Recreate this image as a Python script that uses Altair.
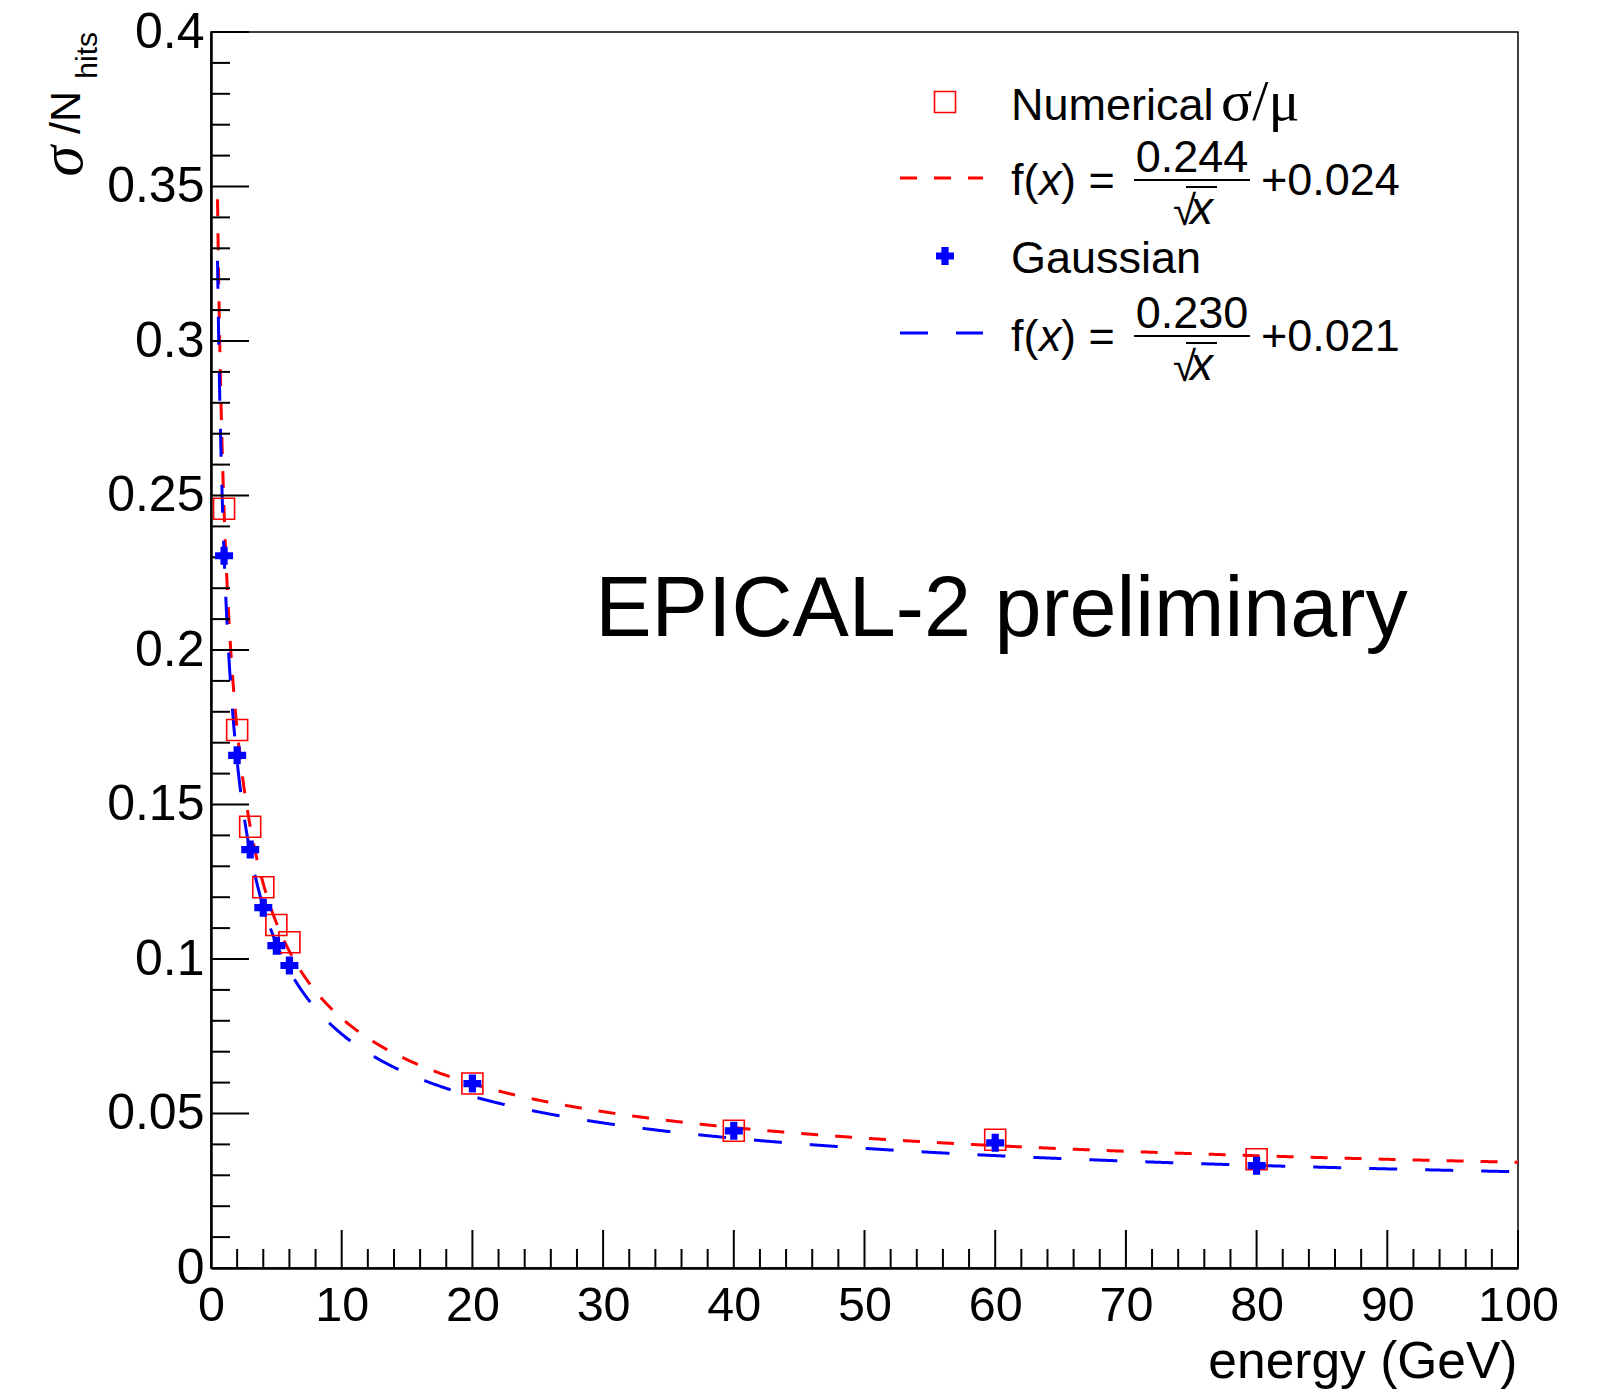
import altair as alt
import pandas as pd

# ---------------- data ----------------
energy = [1, 2, 3, 4, 5, 6, 20, 40, 60, 80]
numerical = [0.2457, 0.1741, 0.1428, 0.1232, 0.1110, 0.1054, 0.0597, 0.0444, 0.0415, 0.0352]
gaussian = [0.2305, 0.1659, 0.1354, 0.1166, 0.1043, 0.0979, 0.0597, 0.0444, 0.0405, 0.0331]

# fit parameters (stochastic term, constant term) as printed in the legend
fit_numerical = [0.244, 0.024]
fit_gaussian = [0.230, 0.021]
fit_range = [0.5, 100.0]

x_major = list(range(0, 101, 10))
x_minor = [v for v in range(0, 101, 2) if v % 10 != 0]
y_major = [0, 0.05, 0.1, 0.15, 0.2, 0.25, 0.3, 0.35, 0.4]
y_minor = [round(i * 0.01, 2) for i in range(41) if i % 5 != 0]

# ---------------- style ----------------
W, H = 1307, 1236
FONT = "Liberation Sans"
SERIF = "Liberation Serif"
RED = "#ff0000"
BLUE = "#0000ff"

xs = alt.Scale(domain=[0, 100], nice=False, zero=False)
ys = alt.Scale(domain=[0, 0.4], nice=False)

pts = pd.DataFrame({"energy": energy, "numerical": numerical, "gaussian": gaussian})

base = alt.Chart(pts)

x_axis = alt.Axis(values=x_major, ticks=False, grid=False, domainColor="black", domainWidth=2.5,
                  labelFont=FONT, labelFontSize=48.5, labelColor="black", labelPadding=14,
                  labelFlush=False, labelOverlap=False,
                  title="energy (GeV)", titleFont=FONT, titleFontSize=51.5, titleFontWeight="normal",
                  titleColor="black", titleAlign="right", titleAnchor="end", titleBaseline="alphabetic",
                  titleX=W - 1, titleY=109)
y_axis = alt.Axis(values=y_major, format="~g", ticks=False, grid=False, domainColor="black", domainWidth=2.5,
                  labelFont=FONT, labelFontSize=50, labelColor="black", labelPadding=7,
                  labelFlush=False, labelOverlap=False, labelBaseline="middle", title=None)


def fit_curve(params, color, dash):
    a, b = params
    return (alt.Chart(alt.sequence(fit_range[0], fit_range[1] + 0.05, 0.05, as_="energy"))
            .transform_calculate(sig=f"sqrt({a}*{a}/datum.energy + {b}*{b})")
            .mark_line(color=color, strokeWidth=3, strokeDash=dash, clip=True)
            .encode(x=alt.X("energy:Q", scale=xs, axis=x_axis),
                    y=alt.Y("sig:Q", scale=ys, axis=y_axis)))


red_curve = fit_curve(fit_numerical, RED, [17, 17])
blue_curve = fit_curve(fit_gaussian, BLUE, [28, 28])

red_pts = base.mark_point(shape="square", filled=False, size=441, strokeWidth=1.6, color=RED, opacity=1).encode(
    x=alt.X("energy:Q", scale=xs), y=alt.Y("numerical:Q", scale=ys))
blue_pts = base.mark_point(shape="cross", filled=True, size=324, color=BLUE, opacity=1, strokeWidth=0).encode(
    x=alt.X("energy:Q", scale=xs), y=alt.Y("gaussian:Q", scale=ys))


# inward ticks (ROOT style)
def xticks(vals, length):
    return alt.Chart(pd.DataFrame({"v": vals})).mark_rule(color="black", strokeWidth=2).encode(
        x=alt.X("v:Q", scale=xs), y=alt.value(H), y2=alt.value(H - length))


def yticks(vals, length):
    return alt.Chart(pd.DataFrame({"v": vals})).mark_rule(color="black", strokeWidth=2).encode(
        y=alt.Y("v:Q", scale=ys), x=alt.value(0), x2=alt.value(length))


ticks = [xticks(x_major, 38), xticks(x_minor, 19), yticks(y_major, 38), yticks(y_minor, 19)]


def label(text, x, y, size=45, align="left", baseline="alphabetic", style="normal", font=FONT, angle=0):
    return alt.Chart(pd.DataFrame({"t": [text]})).mark_text(
        align=align, baseline=baseline, fontSize=size, font=font, fontStyle=style,
        angle=angle, color="black").encode(x=alt.value(x), y=alt.value(y), text="t:N")


def hline(x1, x2, y, color="black", width=2, dash=None):
    kw = dict(color=color, strokeWidth=width)
    if dash:
        kw["strokeDash"] = dash
    return alt.Chart(pd.DataFrame({"t": [0]})).mark_rule(**kw).encode(
        x=alt.value(x1), x2=alt.value(x2), y=alt.value(y))


def symbol(shape, x, y, color, filled, size):
    return alt.Chart(pd.DataFrame({"t": [0]})).mark_point(
        shape=shape, filled=filled, size=size, color=color, opacity=1,
        strokeWidth=(0 if filled else 1.6)).encode(x=alt.value(x), y=alt.value(y))


# y-axis title  sigma/N_hits (rotated)
ytitle = [
    label("hits", -114, 0, size=30, align="right", angle=270),
    label("/N", -131, 59, size=43, align="right", angle=270),
    label("σ", -129, 114, size=62, align="right", angle=270, style="italic", font=SERIF),
]

# legend
legend = [
    symbol("square", 734, 70, RED, False, 441),
    label("Numerical", 800, 88),
    label("σ/μ", 1010, 88, font=SERIF, size=58),
    symbol("cross", 734, 224, BLUE, True, 324),
    label("Gaussian", 800, 241),
]


def fit_entry(dy, color, dash, num, const):
    return [
        hline(689, 772, 146 + dy * 0.994, color=color, width=3, dash=dash),
        label("f(", 800, 163 + dy),
        label("x", 828, 163 + dy, style="italic"),
        label(") =", 850, 163 + dy),
        label(num, 981, 140 + dy, align="center"),
        hline(923, 1039, 148 + dy, width=2),
        label("√", 962, 193 + dy, size=42),
        label("x", 979, 192 + dy, style="italic", size=46),
        hline(975, 1006, 155 + dy, width=2),
        label(const, 1050, 163 + dy),
    ]


legend += fit_entry(0, RED, [17, 17], "0.244", "+0.024")
legend += fit_entry(156, BLUE, [28, 28], "0.230", "+0.021")

annot = alt.Chart(pd.DataFrame({"t": ["EPICAL-2 preliminary"], "x": [29.4], "y": [0.2045]})).mark_text(
    align="left", baseline="alphabetic", fontSize=84.5, font=FONT, color="black").encode(
    x=alt.X("x:Q", scale=xs), y=alt.Y("y:Q", scale=ys), text="t:N")

chart = alt.layer(
    red_curve, blue_curve, *ticks, red_pts, blue_pts, annot, *ytitle, *legend
).properties(
    width=W, height=H,
    padding={"left": 211, "top": 32, "right": 91, "bottom": 127},
    autosize=alt.AutoSizeParams(type="none"),
    background="white",
).configure_view(stroke="black", strokeWidth=1.5)

chart.save("out.html", embed_options={"renderer": "svg", "actions": False})
